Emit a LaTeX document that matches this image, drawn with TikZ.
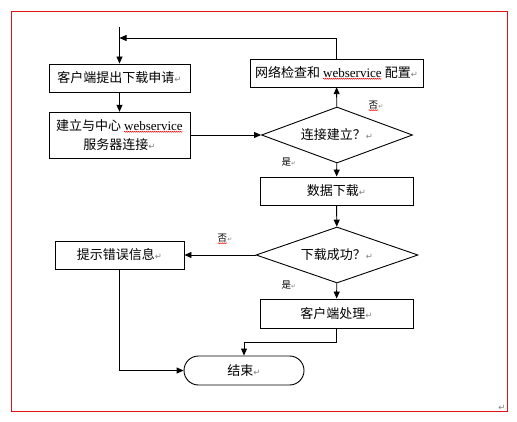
\documentclass[tikz,border=0pt]{standalone}
\usepackage{fontspec}
\setmainfont{Liberation Serif}
\newfontfamily\cjk{Noto Sans CJK SC}
\newfontfamily\symf{DejaVu Sans}
\usetikzlibrary{arrows.meta,positioning,shapes.geometric,shapes.misc,decorations.pathmorphing}
\definecolor{cFrame}{RGB}{220,20,20}
\definecolor{cMark}{RGB}{128,128,128}
\newcommand{\pmark}{{\symf\fontsize{8.5}{8.5}\selectfont\textcolor{cMark}{↵}}}
\newcommand{\spmark}{{\symf\fontsize{6}{6}\selectfont\textcolor{cMark}{↵}}}
\newcommand{\spell}[1]{\tikz[baseline=(w.base)]{\node[font=,shape=rectangle,draw=none,minimum width=0pt,
    minimum height=0pt,inner sep=0pt,outer sep=0pt] (w) {#1};
  \draw[red,line width=0.4pt,decorate,decoration={zigzag,amplitude=0.6pt,segment length=2pt}]
    ([yshift=-1.2pt]w.south west) -- ([yshift=-1.2pt]w.south east);}}
\newcommand{\ws}{{\rmfamily\spell{webservice}}}

\begin{document}
\begin{tikzpicture}[x=1pt,y=-1pt,>={Triangle[length=7pt,width=6pt]},line width=0.9pt,
  font=\cjk\fontsize{13}{19}\selectfont,
  box/.style={draw,rectangle,inner sep=0pt,align=center,minimum height=28pt},
  dec/.style={draw,diamond,aspect=2.8,inner sep=0pt,minimum height=56pt},
  term/.style={draw,rounded rectangle,inner sep=0pt,minimum width=120pt,minimum height=29pt},
  lab/.style={font=\cjk\fontsize{9.5}{10}\selectfont,inner sep=1pt}]
  \useasboundingbox (0,0) rectangle (517,422);
  % frame
  \draw[cFrame,line width=0.8pt] (11.5,11.5) rectangle (507,411);
  \node (cornermark) at (502,408) {\pmark};
  % left column
  \node[box,minimum width=141pt] (req) at (119.5,78) {客户端提出下载申请\pmark};
  \node[box,minimum width=141pt,minimum height=46pt] (conn) at (119.5,135)
       {建立与中心 \ws\\服务器连接\pmark};
  \node[box,minimum width=129pt] (err) at (119.5,255) {提示错误信息\pmark};
  % right column
  \node[box,minimum width=173pt] (net) at (336.5,73) {网络检查和 \ws{} 配置\pmark};
  \node[dec,minimum width=151pt] (d1) at (337,135) {连接建立？\pmark};
  \node[box,minimum width=153pt] (data) at (336.5,191) {数据下载\pmark};
  \node[dec,minimum width=162pt] (d2) at (337,255) {下载成功？\pmark};
  \node[box,minimum width=153pt,minimum height=29pt] (proc) at (336.5,313.5) {客户端处理\pmark};
  \node[term] (end) at (244,370.5) {结束\pmark};
  % branch labels
  \node[lab] (no1) at (376,106) {\spell{否}\spmark};
  \node[lab] (yes1) at (289,162) {是\spmark};
  \node[lab] (no2) at (225,239) {\spell{否}\spmark};
  \node[lab] (yes2) at (289,285) {是\spmark};
  % connectors
  \coordinate (start) at (119.5,27);
  \coordinate (loop) at (119.5,38);
  \draw[->] (start) -- (req);
  \draw[->] (net.north) |- (loop);
  \draw[->] (req) -- (conn);
  \draw[->] (conn) -- (d1);
  \draw[->] (d1) -- (net);
  \draw[->] (d1) -- (data);
  \draw[->] (data) -- (d2);
  \draw[->] (d2) -- (err);
  \draw[->] (d2) -- (proc);
  \draw[->] (proc.south) -- ++(0,14) -| (end.north);
  \draw[->] (err.south) |- (end.west);
\end{tikzpicture}
\end{document}
